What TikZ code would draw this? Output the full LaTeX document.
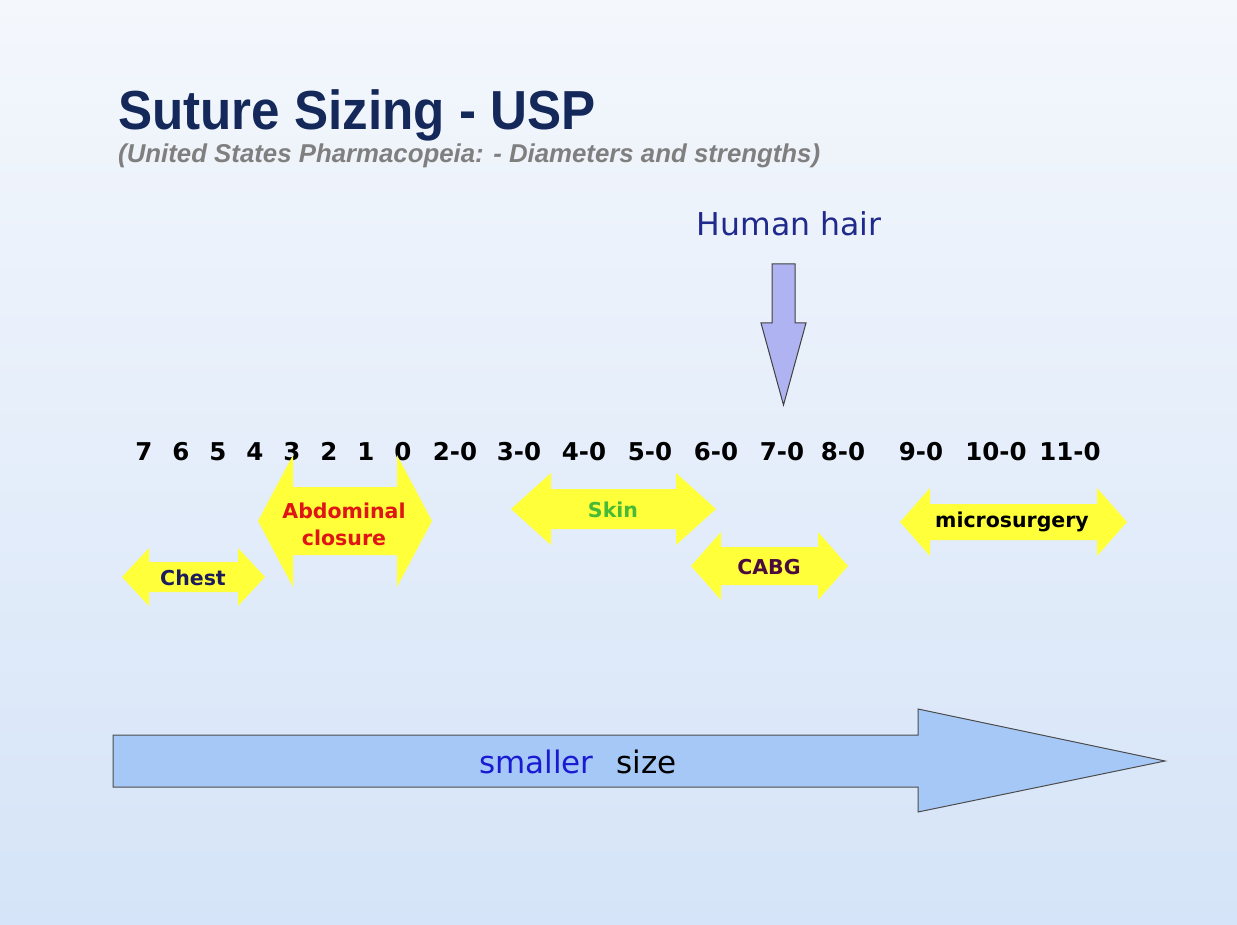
\documentclass[tikz,border=0pt]{standalone}
\usepackage{fontspec}
\setmainfont{DejaVu Sans}
\newfontfamily\titlefont{Liberation Sans}
\usepackage{xcolor}
\usetikzlibrary{positioning}

\definecolor{bgtop}{HTML}{F4F7FC}
\definecolor{bgbottom}{HTML}{D5E4F8}
\definecolor{titlenavy}{HTML}{14285A}
\definecolor{subgray}{HTML}{7F7F7F}
\definecolor{hairblue}{HTML}{1F2A8C}
\definecolor{hairfill}{HTML}{B0B3F2}
\definecolor{armyellow}{HTML}{FFFF3A}
\definecolor{bigfill}{HTML}{A6C8F6}
\definecolor{chestnavy}{HTML}{1C1C5C}
\definecolor{abdred}{HTML}{E01515}
\definecolor{skingreen}{HTML}{47BA38}
\definecolor{cabgpurple}{HTML}{4A0C3C}
\definecolor{smallblue}{HTML}{1A1AD2}

\tikzset{
    numlabel/.style={font=\bfseries\fontsize{24.5}{26}\selectfont, inner sep=0pt},
    rangelabel/.style={font=\bfseries\fontsize{20.5}{27}\selectfont, inner sep=0pt, align=center},
    yellowarm/.style={fill=armyellow}
}

% yellow double arrow: left x, right x, mid y, head length, head half width, shaft half width
\newcommand{\rangearrow}[6]{%
    \fill[yellowarm] (#1,#3) -- ({#1+#4},{#3-#5}) -- ({#1+#4},{#3-#6})
        -- ({#2-#4},{#3-#6}) -- ({#2-#4},{#3-#5}) -- (#2,#3)
        -- ({#2-#4},{#3+#5}) -- ({#2-#4},{#3+#6}) -- ({#1+#4},{#3+#6})
        -- ({#1+#4},{#3+#5}) -- cycle;}

\begin{document}
\begin{tikzpicture}[x=1pt, y=-1pt]
    \useasboundingbox (0,0) rectangle (1237,925);
    \shade[top color=bgtop, bottom color=bgbottom] (0,0) rectangle (1237,925);

    % title
    \node[anchor=base west, inner sep=0pt, text=titlenavy, xscale=0.93,
        font=\titlefont\bfseries\fontsize{55}{60}\selectfont] (title) at (118,130) {Suture Sizing - USP};
    \node[anchor=base west, inner sep=0pt, text=subgray,
        font=\titlefont\bfseries\itshape\fontsize{25.8}{28}\selectfont] (subtitle) at (118,163)
        {(United States Pharmacopeia: - Diameters and strengths)};

    % human hair
    \node[anchor=base, inner sep=0pt, text=hairblue, font=\fontsize{31.5}{34}\selectfont] (hair) at (789,236) {Human hair};
    \draw[fill=hairfill, draw=black!75, line width=1pt]
        (772,264) -- (795,264) -- (795,323) -- (806,323) -- (783.5,405)
        -- (761,323) -- (772,323) -- cycle;

    % size scale
    \foreach \lab/\xx [count=\i] in {7/144, 6/181, 5/218, 4/255, 3/292, 2/329, 1/366, 0/403,
        2-0/455, 3-0/519, 4-0/584, 5-0/650, 6-0/716, 7-0/782, 8-0/843, 9-0/921, 10-0/996, 11-0/1070}
        \node[numlabel, anchor=base] (num\i) at (\xx,460) {\lab};

    % ranges
    \rangearrow{122}{265}{577}{27}{29}{15}
    \rangearrow{258}{432}{521}{35}{66}{34}
    \rangearrow{511}{716}{509}{40}{36}{20}
    \rangearrow{691}{848}{566}{30}{34}{19}
    \rangearrow{900}{1127}{522}{30}{34}{18}
    \node[rangelabel, text=chestnavy] (chest) at (193,578) {Chest};
    \node[rangelabel, text=abdred] (abdominal) at (344,524) {Abdominal\\closure};
    \node[rangelabel, text=skingreen] (skin) at (613,510) {Skin};
    \node[rangelabel, text=cabgpurple] (cabg) at (769,567) {CABG};
    \node[rangelabel, text=black] (micro) at (1012,522) {microsurgery};

    % direction arrow
    \draw[fill=bigfill, draw=black!70, line width=1pt]
        (113,735) -- (918,735) -- (918,709) -- (1165,761) -- (918,812)
        -- (918,787) -- (113,787) -- cycle;
    \node[inner sep=0pt, font=\fontsize{31}{34}\selectfont] (smaller) at (578,762)
        {\textcolor{smallblue}{smaller}\hspace{0.75em}size};
\end{tikzpicture}
\end{document}
